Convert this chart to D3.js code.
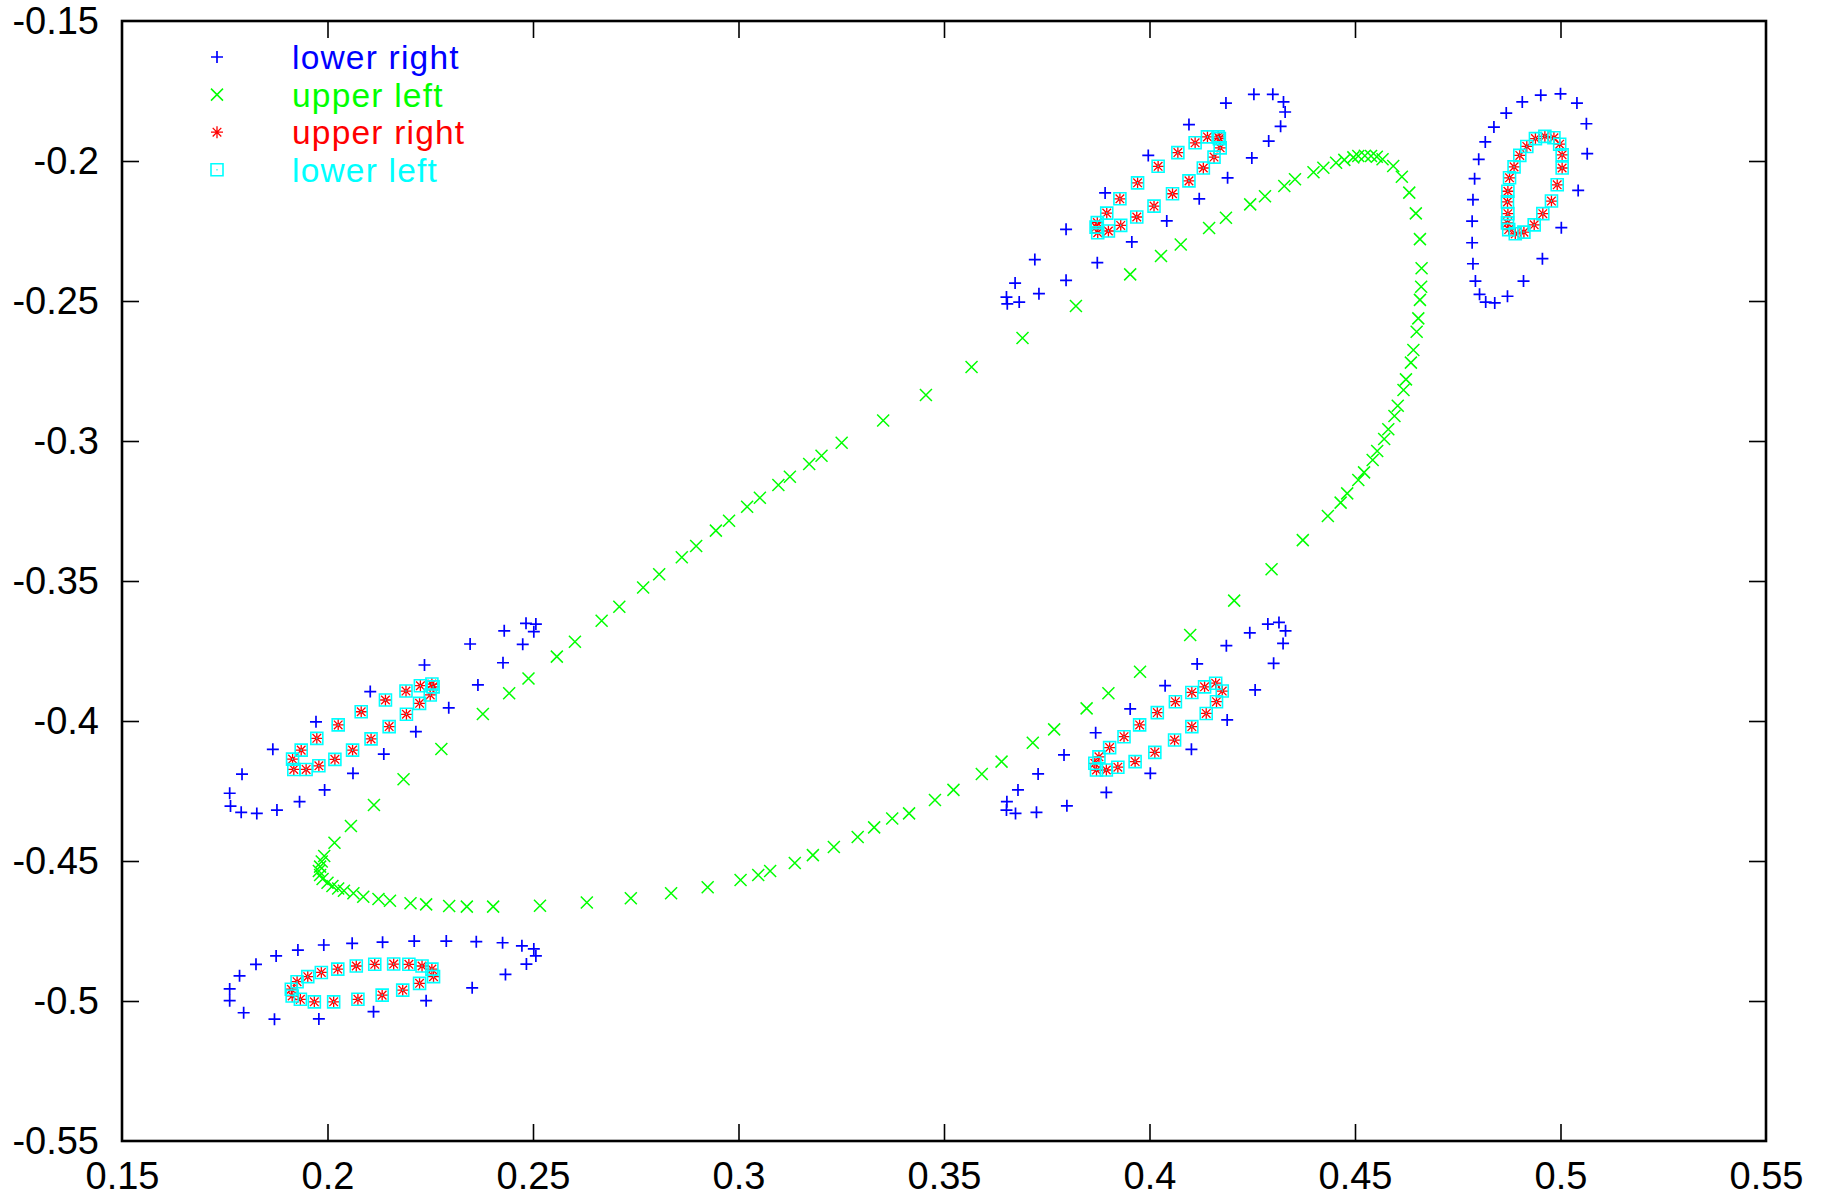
<!DOCTYPE html>
<html>
<head>
<meta charset="utf-8">
<script src="https://cdn.jsdelivr.net/npm/d3@7"></script>
<style>
  body { margin: 0; background: #fff; }
  svg { display: block; }
  text { font-family: "Liberation Sans", Arial, Helvetica, sans-serif; }
</style>
</head>
<body>
<svg id="chart" width="1822" height="1199"></svg>
<script>
// Axis ticks
const xTicks = [0.15, 0.2, 0.25, 0.3, 0.35, 0.4, 0.45, 0.5, 0.55];
const yTicks = [-0.55, -0.5, -0.45, -0.4, -0.35, -0.3, -0.25, -0.2, -0.15];

// Series names in legend order
const seriesNames = ["lower right", "upper left", "upper right", "lower left"];

// lower right: three outer loops plus the right-hand ring
const lowerRight = [
  // upper middle loop
  [0.4254,-0.1762],[0.4300,-0.1762],[0.4326,-0.1789],[0.4330,-0.1825],[0.4319,-0.1876],
  [0.4290,-0.1929],[0.4249,-0.1989],[0.4190,-0.2060],[0.4121,-0.2135],[0.4042,-0.2214],
  [0.3957,-0.2289],[0.3873,-0.2363],[0.3797,-0.2426],[0.3731,-0.2474],[0.3683,-0.2504],
  [0.3654,-0.2510],[0.3652,-0.2486],[0.3673,-0.2436],[0.3721,-0.2352],[0.3797,-0.2244],
  [0.3892,-0.2114],[0.3997,-0.1980],[0.4096,-0.1870],[0.4186,-0.1793],
  // right ring
  [0.4907,-0.1789],[0.4952,-0.1765],[0.5000,-0.1760],[0.5040,-0.1793],[0.5063,-0.1867],
  [0.5065,-0.1974],[0.5043,-0.2105],[0.5002,-0.2238],[0.4956,-0.2349],[0.4910,-0.2429],
  [0.4871,-0.2483],[0.4840,-0.2507],[0.4818,-0.2504],[0.4803,-0.2476],[0.4793,-0.2429],
  [0.4787,-0.2367],[0.4785,-0.2292],[0.4785,-0.2215],[0.4787,-0.2138],[0.4791,-0.2063],
  [0.4801,-0.1994],[0.4817,-0.1932],[0.4838,-0.1879],[0.4868,-0.1829],
  // left middle loop
  [0.1762,-0.4258],[0.1764,-0.4304],[0.1790,-0.4326],[0.1828,-0.4330],[0.1877,-0.4318],
  [0.1932,-0.4288],[0.1993,-0.4246],[0.2062,-0.4187],[0.2137,-0.4118],[0.2215,-0.4038],
  [0.2295,-0.3953],[0.2366,-0.3871],[0.2427,-0.3792],[0.2475,-0.3726],[0.2502,-0.3681],
  [0.2507,-0.3654],[0.2483,-0.3651],[0.2430,-0.3678],[0.2347,-0.3725],[0.2236,-0.3800],
  [0.2104,-0.3895],[0.1972,-0.4003],[0.1867,-0.4101],[0.1792,-0.4190],
  // bottom loop
  [0.1762,-0.4999],[0.1762,-0.4957],[0.1786,-0.4910],[0.1826,-0.4869],[0.1875,-0.4839],
  [0.1928,-0.4818],[0.1991,-0.4800],[0.2060,-0.4794],[0.2134,-0.4790],[0.2211,-0.4786],
  [0.2289,-0.4786],[0.2362,-0.4788],[0.2426,-0.4792],[0.2473,-0.4803],[0.2502,-0.4814],
  [0.2507,-0.4839],[0.2484,-0.4868],[0.2433,-0.4905],[0.2352,-0.4953],[0.2240,-0.4999],
  [0.2112,-0.5038],[0.1979,-0.5064],[0.1871,-0.5065],[0.1796,-0.5042],
  // lower middle loop
  [0.3652,-0.4318],[0.3653,-0.4288],[0.3680,-0.4246],[0.3729,-0.4189],[0.3792,-0.4121],
  [0.3869,-0.4042],[0.3953,-0.3957],[0.4038,-0.3874],[0.4116,-0.3796],[0.4187,-0.3731],
  [0.4244,-0.3685],[0.4288,-0.3654],[0.4315,-0.3648],[0.4331,-0.3678],[0.4325,-0.3723],
  [0.4302,-0.3794],[0.4257,-0.3889],[0.4189,-0.3996],[0.4102,-0.4101],[0.4002,-0.4187],
  [0.3895,-0.4255],[0.3799,-0.4303],[0.3725,-0.4326],[0.3674,-0.4330]
];

// upper left: the long connecting curve
const upperLeft = [
  [0.4354,-0.2065],[0.4328,-0.2089],[0.4281,-0.2126],[0.4245,-0.2155],[0.4186,-0.2203],
  [0.4145,-0.2239],[0.4076,-0.2298],[0.4028,-0.2339],[0.3953,-0.2405],[0.3821,-0.2518],
  [0.3691,-0.2632],[0.3567,-0.2736],[0.3456,-0.2836],[0.3352,-0.2927],[0.3251,-0.3006],
  [0.3202,-0.3053],[0.3172,-0.3082],[0.3125,-0.3128],[0.3097,-0.3157],[0.3052,-0.3203],
  [0.3021,-0.3235],[0.2977,-0.3285],[0.2945,-0.3320],[0.2897,-0.3375],[0.2862,-0.3415],
  [0.2807,-0.3476],[0.2768,-0.3523],[0.2710,-0.3592],[0.2667,-0.3642],[0.2602,-0.3717],
  [0.2558,-0.3770],[0.2489,-0.3848],[0.2442,-0.3901],[0.2378,-0.3975],[0.2277,-0.4100],
  [0.2185,-0.4208],[0.2113,-0.4300],[0.2057,-0.4375],[0.2017,-0.4435],[0.1992,-0.4482],
  [0.1986,-0.4502],[0.1982,-0.4520],[0.1979,-0.4536],[0.1982,-0.4550],[0.1988,-0.4564],
  [0.2000,-0.4578],[0.2012,-0.4589],[0.2026,-0.4598],[0.2040,-0.4606],[0.2063,-0.4615],
  [0.2087,-0.4628],[0.2124,-0.4636],[0.2152,-0.4642],[0.2202,-0.4651],[0.2240,-0.4655],
  [0.2296,-0.4661],[0.2339,-0.4663],[0.2403,-0.4663],[0.2517,-0.4660],[0.2631,-0.4648],
  [0.2738,-0.4633],[0.2836,-0.4615],[0.2925,-0.4594],[0.3005,-0.4568],[0.3048,-0.4550],
  [0.3077,-0.4536],[0.3137,-0.4507],[0.3181,-0.4479],[0.3232,-0.4450],[0.3290,-0.4414],
  [0.3330,-0.4380],[0.3374,-0.4348],[0.3415,-0.4330],[0.3478,-0.4282],[0.3523,-0.4246],
  [0.3592,-0.4189],[0.3640,-0.4145],[0.3716,-0.4078],[0.3768,-0.4030],[0.3847,-0.3955],
  [0.3900,-0.3901],[0.3977,-0.3824],[0.4099,-0.3693],[0.4206,-0.3570],[0.4297,-0.3458],
  [0.4373,-0.3354],[0.4434,-0.3268],[0.4465,-0.3220],[0.4481,-0.3187],[0.4508,-0.3139],
  [0.4522,-0.3112],[0.4543,-0.3068],[0.4554,-0.3036],[0.4571,-0.2993],[0.4581,-0.2958],
  [0.4596,-0.2911],[0.4604,-0.2874],[0.4618,-0.2818],[0.4624,-0.2780],[0.4636,-0.2720],
  [0.4642,-0.2675],[0.4650,-0.2610],[0.4654,-0.2562],[0.4658,-0.2496],[0.4661,-0.2449],
  [0.4662,-0.2383],[0.4658,-0.2279],[0.4648,-0.2187],[0.4632,-0.2113],[0.4614,-0.2056],
  [0.4593,-0.2018],[0.4567,-0.1994],[0.4553,-0.1985],[0.4539,-0.1982],[0.4524,-0.1981],
  [0.4508,-0.1982],[0.4496,-0.1987],[0.4474,-0.1996],[0.4454,-0.2006],[0.4423,-0.2024],
  [0.4399,-0.2040]
];

// upper right: four inner loops
const upperRight = [
  // upper middle
  [0.3873,-0.2220],[0.3896,-0.2186],[0.3928,-0.2135],[0.3971,-0.2078],[0.4021,-0.2019],
  [0.4069,-0.1970],[0.4111,-0.1935],[0.4141,-0.1914],[0.4167,-0.1914],
  [0.3874,-0.2256],[0.3900,-0.2250],[0.3930,-0.2230],[0.3969,-0.2200],[0.4011,-0.2161],
  [0.4056,-0.2117],[0.4096,-0.2071],[0.4131,-0.2025],[0.4157,-0.1986],[0.4172,-0.1953],
  [0.4170,-0.1920],[0.3870,-0.2236],
  // right ring
  [0.4939,-0.1920],[0.4962,-0.1912],[0.4984,-0.1917],[0.4998,-0.1940],[0.5004,-0.1978],
  [0.5004,-0.2025],[0.4992,-0.2085],[0.4978,-0.2143],[0.4957,-0.2188],[0.4936,-0.2228],
  [0.4911,-0.2254],[0.4890,-0.2260],[0.4874,-0.2245],[0.4871,-0.2221],[0.4872,-0.2188],
  [0.4871,-0.2146],[0.4872,-0.2108],[0.4876,-0.2060],[0.4887,-0.2021],[0.4901,-0.1980],
  [0.4918,-0.1948],
  // left middle
  [0.1915,-0.4136],[0.1936,-0.4104],[0.1974,-0.4062],[0.2026,-0.4014],[0.2082,-0.3967],
  [0.2141,-0.3925],[0.2191,-0.3893],[0.2226,-0.3874],[0.2254,-0.3868],
  [0.1918,-0.4173],[0.1948,-0.4173],[0.1979,-0.4160],[0.2018,-0.4137],[0.2061,-0.4104],
  [0.2106,-0.4064],[0.2150,-0.4020],[0.2192,-0.3976],[0.2224,-0.3937],[0.2250,-0.3907],
  [0.2257,-0.3878],
  // bottom
  [0.1912,-0.4958],[0.1926,-0.4931],[0.1952,-0.4913],[0.1985,-0.4898],[0.2025,-0.4886],
  [0.2070,-0.4875],[0.2115,-0.4869],[0.2161,-0.4868],[0.2198,-0.4869],[0.2230,-0.4875],
  [0.2254,-0.4886],[0.2258,-0.4913],[0.2224,-0.4937],[0.2183,-0.4961],[0.2133,-0.4979],
  [0.2074,-0.4994],[0.2015,-0.5003],[0.1968,-0.5003],[0.1934,-0.4994],[0.1914,-0.4982],
  // lower middle
  [0.3867,-0.4151],[0.3877,-0.4128],[0.3903,-0.4095],[0.3938,-0.4056],[0.3976,-0.4014],
  [0.4019,-0.3970],[0.4063,-0.3931],[0.4103,-0.3898],[0.4134,-0.3878],[0.4161,-0.3865],
  [0.3871,-0.4175],[0.3895,-0.4175],[0.3923,-0.4165],[0.3965,-0.4145],[0.4013,-0.4112],
  [0.4061,-0.4068],[0.4103,-0.4020],[0.4138,-0.3973],[0.4163,-0.3931],[0.4177,-0.3893]
];

// lower left lands on the same points as upper right
const lowerLeft = upperRight;

const margin = { left: 122, right: 1766, top: 21, bottom: 1141 };

const x = d3.scaleLinear().domain([0.15, 0.55]).range([margin.left, margin.right]);
const y = d3.scaleLinear().domain([-0.55, -0.15]).range([margin.bottom, margin.top]);

const svg = d3.select("#chart");
const fmt = d => String(+d.toFixed(2));
const FONT = 38;
const LEGEND_FONT = 33.5;
const TICK = 17;

// Axes with inward ticks, mirrored on top and right
const gx = svg.append("g").attr("transform", `translate(0,${margin.bottom})`)
  .call(d3.axisBottom(x).tickValues(xTicks).tickSizeInner(-TICK).tickSizeOuter(0).tickPadding(21).tickFormat(fmt));
const gxTop = svg.append("g").attr("transform", `translate(0,${margin.top})`)
  .call(d3.axisTop(x).tickValues(xTicks.slice(1, -1)).tickSizeInner(-TICK).tickSizeOuter(0).tickFormat(""));
const gy = svg.append("g").attr("transform", `translate(${margin.left},0)`)
  .call(d3.axisLeft(y).tickValues(yTicks).tickSizeInner(-TICK).tickSizeOuter(0).tickPadding(23).tickFormat(fmt));
const gyRight = svg.append("g").attr("transform", `translate(${margin.right},0)`)
  .call(d3.axisRight(y).tickValues(yTicks.slice(1, -1)).tickSizeInner(-TICK).tickSizeOuter(0).tickFormat(""));

[gx, gxTop, gy, gyRight].forEach(g => {
  g.select(".domain").remove();
  g.selectAll(".tick line").attr("stroke", "#000").attr("stroke-width", 1.6);
  g.selectAll(".tick text").attr("fill", "#000").attr("font-size", FONT)
    .attr("font-family", '"Liberation Sans", Arial, sans-serif');
});
gx.selectAll(".tick").filter(d => d === 0.15 || d === 0.55).select("line").remove();
gy.selectAll(".tick").filter(d => d === -0.55 || d === -0.15).select("line").remove();

// Plot frame
svg.append("rect")
  .attr("x", margin.left).attr("y", margin.top)
  .attr("width", margin.right - margin.left).attr("height", margin.bottom - margin.top)
  .attr("fill", "none").attr("stroke", "#000").attr("stroke-width", 2.6);

// Point glyphs
const glyph = {
  plus: "M-6,0H6M0,-6V6",
  cross: "M-6,-6L6,6M-6,6L6,-6",
  star: "M-6,0H6M0,-6V6M-4.3,-4.3L4.3,4.3M-4.3,4.3L4.3,-4.3",
  box: "M-6,-6H6V6H-6Z M-0.6,0H0.6"
};

const series = [
  { name: seriesNames[0], data: lowerRight, color: "#0000ff", glyph: glyph.plus, sw: 1.7 },
  { name: seriesNames[1], data: upperLeft, color: "#00ff00", glyph: glyph.cross, sw: 1.5 },
  { name: seriesNames[2], data: upperRight, color: "#ff0000", glyph: glyph.star, sw: 1.3 },
  { name: seriesNames[3], data: lowerLeft, color: "#00ffff", glyph: glyph.box, sw: 1.6 }
];

const plot = svg.append("g");
series.forEach(s => {
  plot.append("g").selectAll("path").data(s.data).join("path")
    .attr("d", s.glyph)
    .attr("transform", d => `translate(${x(d[0])},${y(d[1])})`)
    .attr("fill", "none").attr("stroke", s.color).attr("stroke-width", s.sw);
});

// Legend
const legend = svg.append("g");
series.forEach((s, i) => {
  const cy = 57 + i * 37.6;
  legend.append("path").attr("d", s.glyph)
    .attr("transform", `translate(217,${cy})`)
    .attr("fill", "none").attr("stroke", s.color).attr("stroke-width", s.sw);
  legend.append("text").attr("x", 292).attr("y", cy + 12)
    .attr("font-size", LEGEND_FONT).attr("letter-spacing", 1.2)
    .attr("fill", s.color).text(s.name);
});
</script>
</body>
</html>
